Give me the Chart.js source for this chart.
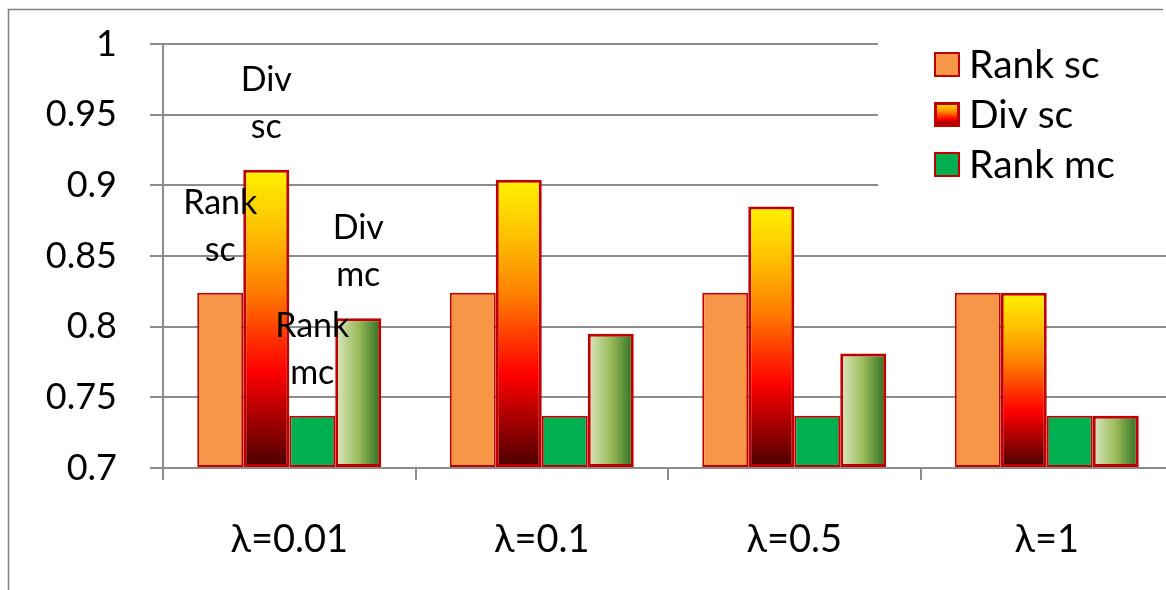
<!DOCTYPE html>
<html>
<head>
<meta charset="utf-8">
<script src="https://cdn.jsdelivr.net/npm/chart.js@4"></script>
<style>
  html, body { margin: 0; padding: 0; background: #fff; overflow: hidden; }
  #wrap { position: relative; width: 1173px; height: 590px; }
</style>
</head>
<body>
<div id="wrap"><canvas id="c" width="1173" height="590"></canvas></div>
<script>
// Categories and series values
const categories = ['λ=0.01', 'λ=0.1', 'λ=0.5', 'λ=1'];
const rankSc = [0.824, 0.824, 0.824, 0.824];
const divSc  = [0.911, 0.904, 0.885, 0.824];
const rankMc = [0.737, 0.737, 0.737, 0.737];
const divMc  = [0.806, 0.795, 0.781, 0.737];
const legendSeries = ['Rank sc', 'Div sc', 'Rank mc'];
const axisMin = 0.7, axisMax = 1, axisStep = 0.05;

const FONT = 'Lato, "Open Sans", sans-serif';
const RED = '#C00000';
const GRID = '#8C8C8C';

function fireGradient(ctx, top, bottom) {
  const g = ctx.createLinearGradient(0, top, 0, bottom);
  g.addColorStop(0.00, '#FFF200');
  g.addColorStop(0.20, '#FFC000');
  g.addColorStop(0.40, '#FF8000');
  g.addColorStop(0.55, '#FF3A00');
  g.addColorStop(0.68, '#FF0000');
  g.addColorStop(0.82, '#B00000');
  g.addColorStop(1.00, '#4A0000');
  return g;
}
function leafGradient(ctx, left, right) {
  const g = ctx.createLinearGradient(left, 0, right, 0);
  g.addColorStop(0.00, '#DCE8C4');
  g.addColorStop(0.50, '#9BBB59');
  g.addColorStop(1.00, '#2C6E22');
  return g;
}

// Page background and outer frame
const framePlugin = {
  id: 'frame',
  beforeDraw(chart) {
    const c = chart.ctx;
    c.save();
    c.fillStyle = '#fff';
    c.fillRect(0, 0, chart.width, chart.height);
    c.strokeStyle = '#808080';
    c.lineWidth = 1.5;
    c.beginPath();
    c.moveTo(8.5, chart.height + 2);
    c.lineTo(8.5, 9.5);
    c.lineTo(1163, 9.5);
    c.stroke();
    c.restore();
  }
};

// Per-bar gradient fills
const gradientPlugin = {
  id: 'barGradients',
  beforeDatasetsDraw(chart) {
    chart.data.datasets.forEach((ds, i) => {
      if (!ds.gradientDir) return;
      chart.getDatasetMeta(i).data.forEach(el => {
        const p = el.getProps(['x', 'y', 'base', 'width'], true);
        el.options.backgroundColor = ds.gradientDir === 'v'
          ? fireGradient(chart.ctx, p.y, p.base)
          : leafGradient(chart.ctx, p.x - p.width / 2, p.x + p.width / 2);
      });
    });
  }
};

// Series names above the bars of the first group
const seriesLabelPlugin = {
  id: 'seriesLabels',
  afterDatasetsDraw(chart) {
    const c = chart.ctx;
    c.save();
    c.font = '34px ' + FONT;
    c.fillStyle = '#000';
    c.textAlign = 'center';
    c.textBaseline = 'middle';
    chart.data.datasets.forEach((ds, i) => {
      const el = chart.getDatasetMeta(i).data[0];
      const words = ds.label.split(' ');
      c.fillText(words[0], el.x, el.y - 90);
      c.fillText(words[1], el.x, el.y - 43);
    });
    c.restore();
  }
};

// Legend box in the upper right
const legendPlugin = {
  id: 'legendBox',
  afterDraw(chart) {
    const c = chart.ctx;
    c.save();
    c.fillStyle = '#fff';
    c.fillRect(878, 30, chart.width - 878, 166);
    legendSeries.forEach((name, k) => {
      const ds = chart.data.datasets.find(d => d.label === name);
      const bx = 934, by = 52 + 50 * k, bw = 26, bh = 25;
      if (ds.gradientDir === 'v') c.fillStyle = fireGradient(c, by, by + bh);
      else c.fillStyle = ds.legendColor;
      c.fillRect(bx, by, bw, bh);
      c.strokeStyle = RED;
      c.lineWidth = ds.gradientDir === 'v' ? 3 : 2;
      c.strokeRect(bx + c.lineWidth / 2, by + c.lineWidth / 2, bw - c.lineWidth, bh - c.lineWidth);
      c.fillStyle = '#000';
      c.font = '39px ' + FONT;
      c.textAlign = 'left';
      c.textBaseline = 'middle';
      c.fillText(name, 969, by + bh / 2 + 1);
    });
    c.restore();
  }
};

new Chart(document.getElementById('c'), {
  type: 'bar',
  data: {
    labels: categories,
    datasets: [
      { label: 'Rank sc', data: rankSc, backgroundColor: '#F79646', legendColor: '#F79646', borderColor: RED, borderWidth: 2 },
      { label: 'Div sc',  data: divSc,  backgroundColor: () => '#FF0000', gradientDir: 'v', borderColor: RED, borderWidth: 3 },
      { label: 'Rank mc', data: rankMc, backgroundColor: '#00B050', legendColor: '#00B050', borderColor: RED, borderWidth: 2 },
      { label: 'Div mc',  data: divMc,  backgroundColor: () => '#9BBB59', gradientDir: 'h', borderColor: RED, borderWidth: 3 }
    ]
  },
  options: {
    responsive: false,
    animation: false,
    events: [],
    datasets: { bar: { categoryPercentage: 0.7287, barPercentage: 1, borderSkipped: false, base: axisMin } },
    layout: { padding: { top: 44, left: 0, right: 0, bottom: 0 } },
    plugins: { legend: { display: false }, tooltip: { enabled: false } },
    scales: {
      x: {
        grid: { offset: true, drawOnChartArea: false, tickLength: 12, color: GRID, lineWidth: 2 },
        border: { color: GRID, width: 2 },
        ticks: { font: { family: FONT, size: 38 }, color: '#000', padding: 37 },
        afterFit: s => { s.height = 122; }
      },
      y: {
        min: axisMin, max: axisMax,
        grid: { color: GRID, lineWidth: 2, tickLength: 13 },
        border: { color: GRID, width: 2 },
        ticks: {
          stepSize: axisStep,
          font: { family: FONT, size: 36 },
          color: '#000',
          padding: 33,
          callback: v => String(+Number(v).toFixed(2))
        },
        afterFit: s => { s.width = 163; s.paddingTop = 0; s.paddingBottom = 0; }
      }
    }
  },
  plugins: [framePlugin, gradientPlugin, seriesLabelPlugin, legendPlugin]
});
</script>
</body>
</html>
